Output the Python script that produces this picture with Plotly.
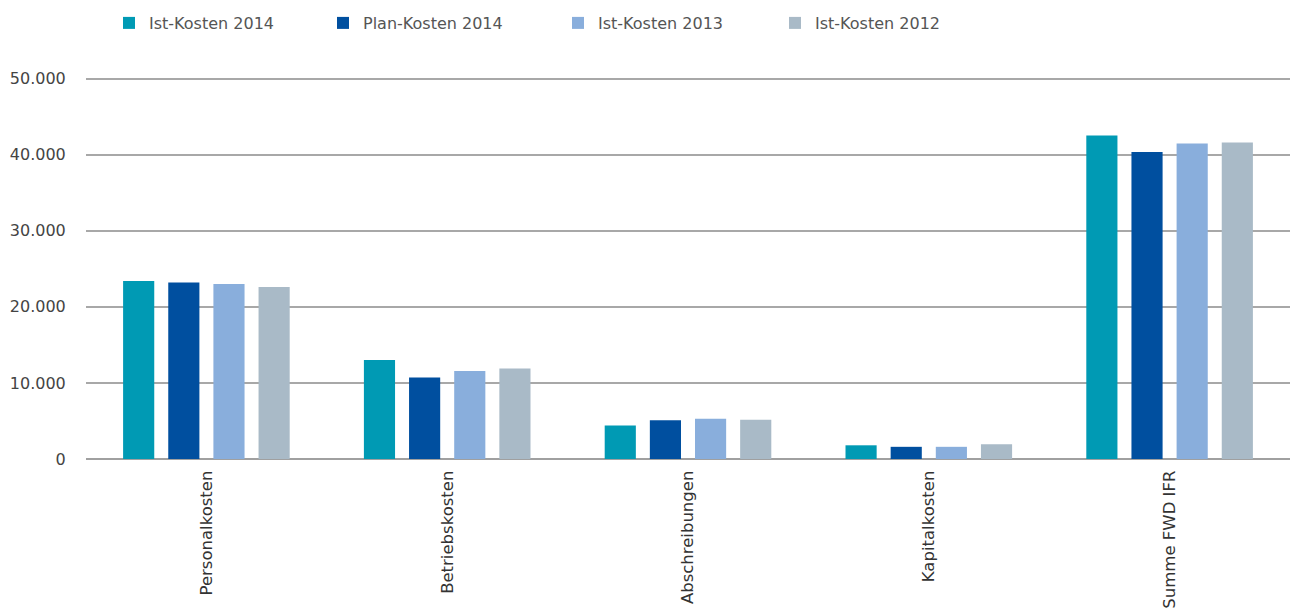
import plotly.graph_objects as go

# Kostenarten (x-Achse)
categories = ["Personalkosten", "Betriebskosten", "Abschreibungen", "Kapitalkosten", "Summe FWD IFR"]

# Werte je Reihe
ist_2014 = [23400, 13000, 4400, 1800, 42500]
plan_2014 = [23200, 10700, 5100, 1600, 40350]
ist_2013 = [23000, 11550, 5300, 1600, 41450]
ist_2012 = [22600, 11900, 5150, 1950, 41600]

series_names = ["Ist-Kosten 2014", "Plan-Kosten 2014", "Ist-Kosten 2013", "Ist-Kosten 2012"]
series_values = [ist_2014, plan_2014, ist_2013, ist_2012]
series_colors = ["#009ab4", "#004f9f", "#89aedc", "#a9bac7"]

y_ticks = [0, 10000, 20000, 30000, 40000, 50000]

FONT = "DejaVu Sans"
W, H = 1293, 608

# one legend per series, so each entry sits at its own horizontal slot
legend_ids = ["legend", "legend2", "legend3", "legend4"]
legend_x_px = [109, 323, 558, 775]

fig = go.Figure()
for name, vals, col, lid in zip(series_names, series_values, series_colors, legend_ids):
    fig.add_trace(go.Bar(
        x=categories, y=vals, name=name,
        marker=dict(color=col, line=dict(width=0)),
        legend=lid,
    ))

legend_style = dict(
    orientation="h",
    xref="container", yref="container",
    xanchor="left", yanchor="middle",
    y=1 - 23 / H,
    font=dict(family=FONT, size=16, color="#555555"),
    itemclick=False,
    bgcolor="rgba(0,0,0,0)",
)
legend_layout = {lid: dict(legend_style, x=px / W) for lid, px in zip(legend_ids, legend_x_px)}

fig.update_layout(
    width=W, height=H,
    autosize=False,
    separators=",.",
    barmode="group",
    bargap=0.25,
    bargroupgap=0.31,
    plot_bgcolor="white",
    paper_bgcolor="white",
    font=dict(family=FONT, size=15, color="#444444"),
    margin=dict(l=86, r=3, t=77, b=149, autoexpand=False),
    showlegend=True,
    xaxis=dict(
        tickangle=-90,
        tickfont=dict(family=FONT, size=16.5, color="#333333"),
        showgrid=False,
        showline=False,
        ticks="outside",
        ticklen=4,
        tickcolor="rgba(0,0,0,0)",
    ),
    yaxis=dict(
        range=[0, 50200],
        tickvals=y_ticks,
        tickformat=",d",
        tickfont=dict(family=FONT, size=16, color="#444444"),
        showgrid=True,
        gridcolor="#a8a8a8",
        gridwidth=1.5,
        zeroline=True,
        zerolinecolor="#a0a0a0",
        zerolinewidth=1.5,
        showline=False,
        ticks="outside",
        ticklen=16,
        tickcolor="rgba(0,0,0,0)",
    ),
    **legend_layout,
)

fig.write_html("out.html")
